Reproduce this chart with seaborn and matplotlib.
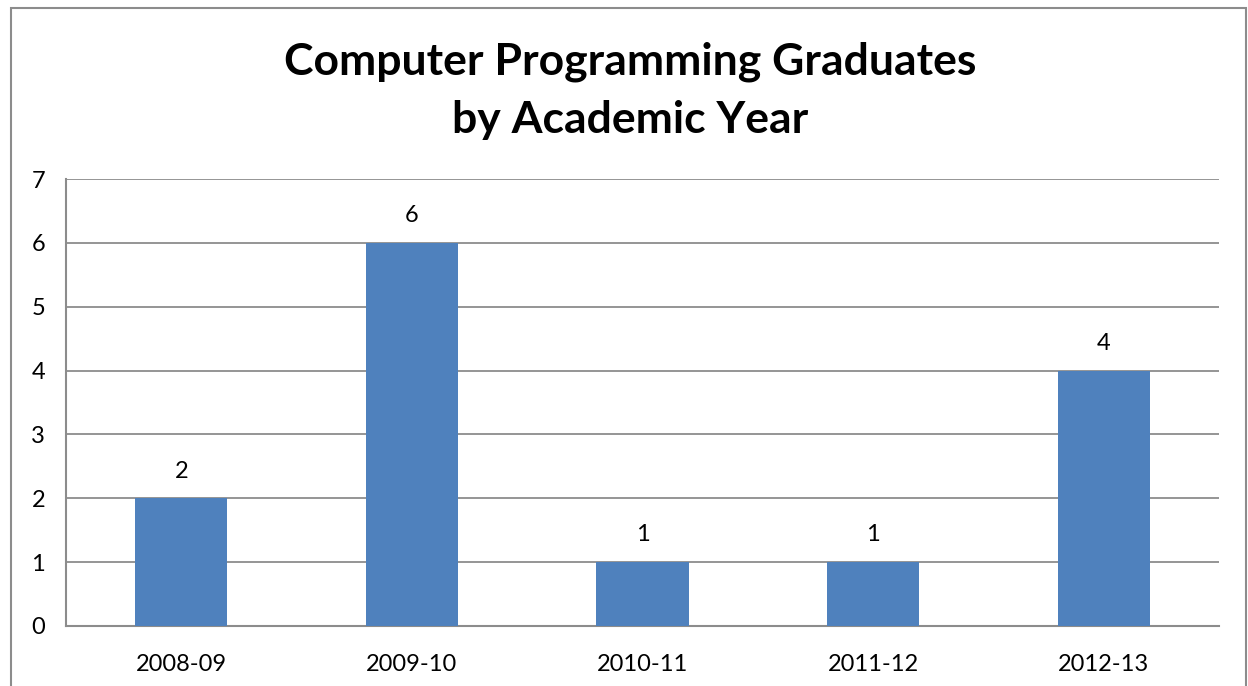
import matplotlib
matplotlib.use("Agg")
import matplotlib.pyplot as plt
import seaborn as sns
import pandas as pd
from matplotlib.patches import Rectangle

years = ["2008-09", "2009-10", "2010-11", "2011-12", "2012-13"]
graduates = [2, 6, 1, 1, 4]
title = "Computer Programming Graduates\nby Academic Year"

sns.set_theme(style="white")
plt.rcParams["font.family"] = ["Lato", "DejaVu Sans"]
plt.rcParams["text.color"] = "black"

df = pd.DataFrame({"year": years, "graduates": graduates})

W, H = 1248, 686
fig = plt.figure(figsize=(W / 100, H / 100), dpi=100)
ax = fig.add_axes([66 / W, 1 - 626 / H, (1219 - 66) / W, (626 - 179) / H])

sns.barplot(data=df, x="year", y="graduates", color="#4F81BD", width=0.4,
            saturation=1, linewidth=0, ax=ax, zorder=3)

ax.set_ylim(0, 7)
ax.set_xlim(-0.5, len(years) - 0.5)
ax.set_yticks(range(0, 8))
ax.grid(axis="y", color="#8C8C8C", linewidth=1.3, zorder=0)
ax.grid(axis="x", visible=False)
for s in ["top", "right"]:
    ax.spines[s].set_visible(False)
for s in ["left", "bottom"]:
    ax.spines[s].set_color("#8C8C8C")
    ax.spines[s].set_linewidth(1.5)
ax.tick_params(axis="both", length=0, labelsize=17, colors="black")
ax.tick_params(axis="y", pad=15)
ax.tick_params(axis="x", pad=20)
ax.set_xlabel("")
ax.set_ylabel("")

for i, v in enumerate(graduates):
    ax.annotate(str(v), (i, v), xytext=(0, 12), textcoords="offset points",
                ha="center", va="bottom", fontsize=17, color="black")

fig.text(630 / W, 1 - 91 / H, title, ha="center", va="center",
         fontsize=32, fontweight="bold", linespacing=1.55, color="black")

fig.patches.append(Rectangle((11 / W, -0.05), (1246 - 11) / W, 1 - 8 / H + 0.05,
                             transform=fig.transFigure, fill=False,
                             edgecolor="#8C8C8C", linewidth=1.5))

fig.savefig("out.png", dpi=100, facecolor="white")
